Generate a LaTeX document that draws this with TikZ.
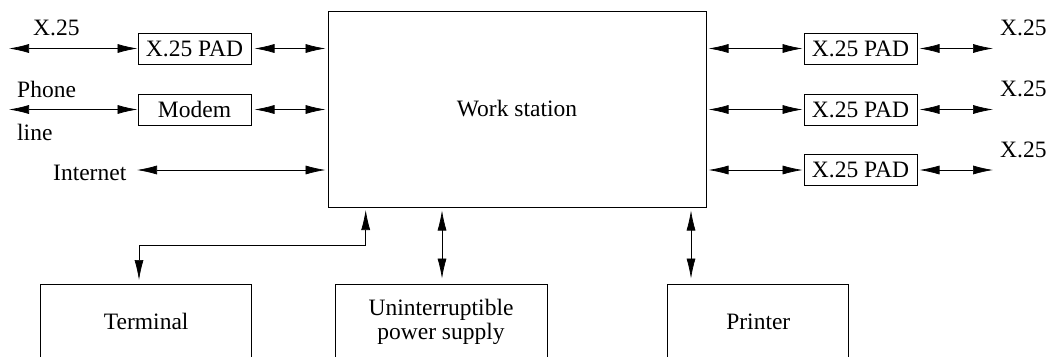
\documentclass[tikz,border=0pt]{standalone}
\usepackage{fontspec}
\setmainfont{Liberation Serif}
\usetikzlibrary{arrows.meta}
\begin{document}
\begin{tikzpicture}[x=1pt,y=-1pt,
  every node/.style={font=\fontsize{23.5}{24}\selectfont, inner sep=0pt},
  box/.style={draw, line width=1pt, rectangle},
  padbox/.style={box, minimum width=113pt, minimum height=31pt},
  lowbox/.style={box, minimum height=75pt, align=center},
  lbl/.style={anchor=base west},
  tip/.style={Latex[length=20pt,width=9pt]},
  link/.style={line width=0.7pt, {Latex[length=20pt,width=9pt]}-{Latex[length=20pt,width=9pt]}}
]
\clip (0,0) rectangle (1051,356);

% central computer
\node[box, minimum width=378pt, minimum height=196pt] (ws) at (517,109) {Work station};

% left side: lines into the work station
\node[padbox] (padL) at (194.5,48.5) {X.25 PAD};
\node[padbox] (modem) at (194.5,109.5) {Modem};
\node[lbl] (x25L) at (33,35) {X.25};
\node[lbl] (phone) at (17,97) {Phone};
\node[lbl] (line) at (17,140) {line};
\node[lbl] (inet) at (53,180) {Internet};

\coordinate (xL) at (9,48.5);
\coordinate (phL) at (9,109.5);
\coordinate (inL) at (137,170);

\draw[link] (xL) -- (padL.west);
\draw[link, shorten <=3pt, shorten >=2pt] (padL.east) -- (ws.west |- padL);
\draw[link] (phL) -- (modem.west);
\draw[link, shorten <=3pt, shorten >=2pt] (modem.east) -- (ws.west |- modem);
\draw[link, shorten >=2pt] (inL) -- (ws.west |- inL);

% right side: three X.25 PADs
\node[padbox] (padR1) at (860.5,48.5) {X.25 PAD};
\node[padbox] (padR2) at (860.5,109.5) {X.25 PAD};
\node[padbox] (padR3) at (860.5,170) {X.25 PAD};
\node[lbl] (x25R1) at (1000,35) {X.25};
\node[lbl] (x25R2) at (1000,96) {X.25};
\node[lbl] (x25R3) at (1000,157) {X.25};

\coordinate (oR1) at (993,48.5);
\coordinate (oR2) at (993,109.5);
\coordinate (oR3) at (993,170);

\draw[link, shorten <=2pt, shorten >=1pt] (ws.east |- padR1) -- (padR1.west);
\draw[link, shorten <=2pt, shorten >=1pt] (ws.east |- padR2) -- (padR2.west);
\draw[link, shorten <=2pt, shorten >=1pt] (ws.east |- padR3) -- (padR3.west);
\draw[link, shorten <=2pt] (padR1.east) -- (oR1);
\draw[link, shorten <=2pt] (padR2.east) -- (oR2);
\draw[link, shorten <=2pt] (padR3.east) -- (oR3);

% bottom row of devices
\node[lowbox, minimum width=211pt] (term) at (146.2,321.5) {Terminal};
\node[lowbox, minimum width=212pt] (ups) at (441,321.5) {Uninterruptible\\power supply};
\node[lowbox, minimum width=181pt] (prn) at (758.3,321.5) {Printer};

\coordinate (tA) at (365.7,207);
\coordinate (tB) at (139,284);
\coordinate (tK) at (365.7,245);
\draw[link, shorten <=3pt, shorten >=4pt] (tA) -- (tK) -| (tB);
\draw[link, shorten <=3pt, shorten >=5pt] (ws.south -| 442,0) -- (ups.north -| 442,0);
\draw[link, shorten <=3pt, shorten >=5pt] (ws.south -| 691,0) -- (prn.north -| 691,0);
\end{tikzpicture}
\end{document}
